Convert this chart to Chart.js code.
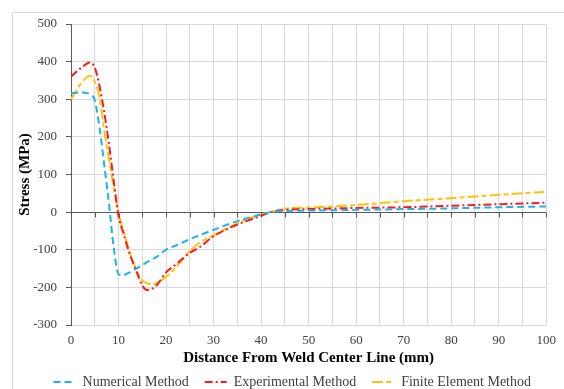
<!DOCTYPE html>
<html>
<head>
<meta charset="utf-8">
<script src="https://cdn.jsdelivr.net/npm/chart.js@4.4.0/dist/chart.umd.min.js"></script>
<style>
  body { margin:0; background:#fff; }
  #wrap { position:relative; width:564px; height:389px; }
  #frame { position:absolute; left:12px; top:12px; width:560px; height:390px; border:1px solid #d9d9d9; box-sizing:border-box; }
  canvas { position:absolute; left:0; top:0; }
</style>
</head>
<body>
<div id="wrap">
  <div id="frame"></div>
  <canvas id="chartStress" width="564" height="389"></canvas>
</div>
<script>
// data (distance in mm, stress in MPa)
const distance     = [0, 2, 4, 5, 6, 7, 8, 9, 10, 11, 12, 13, 14, 15, 16, 17, 18, 20, 22, 25, 27, 30, 35, 40, 42, 45, 50, 60, 70, 80, 90, 100];
const numerical    = [316, 318, 313, 297, 225, 125, 20, -95, -165, -168, -162, -155, -148, -140, -133, -126, -119, -100, -89, -72, -62, -47, -24, -6, 0, 3, 4, 6, 8, 10, 13, 15];
const experimental = [360, 382, 398, 384, 335, 265, 180, 82, -10, -55, -98, -133, -165, -195, -207, -204, -195, -160, -140, -108, -94, -64, -33, -10, 0, 6, 8, 11, 13, 17, 21, 25];
const finiteElem   = [300, 340, 362, 346, 305, 215, 140, 65, -3, -48, -91, -130, -160, -182, -189, -192, -189, -172, -148, -103, -82, -62, -30, -6, 0, 9, 12, 19, 29, 37, 46, 54];
const seriesNames  = ['Numerical Method', 'Experimental Method', 'Finite Element Method'];

const serif = '"Liberation Serif", "Times New Roman", serif';
const pts = arr => distance.map((d, i) => ({ x: d, y: arr[i] }));

// small tick marks hanging under the zero line, like the excel axis
const zeroTicks = {
  id: 'zeroTicks',
  beforeDatasetsDraw(chart){
    const x = chart.scales.x, y = chart.scales.y;
    const y0 = Math.round(y.getPixelForValue(0)) + 0.5;
    const ctx = chart.ctx;
    ctx.save();
    ctx.strokeStyle = '#595959';
    ctx.lineWidth = 1;
    ctx.beginPath();
    for(let v = 0; v <= 100; v += 5){
      const px = Math.round(x.getPixelForValue(v)) + 0.5;
      ctx.moveTo(px, y0);
      ctx.lineTo(px, y0 + 5);
    }
    ctx.stroke();
    ctx.restore();
  }
};

const line = (label, data, color, dash) => ({
  label, data: pts(data),
  borderColor: color, backgroundColor: color,
  borderWidth: 2, borderDash: dash,
  pointRadius: 0, pointStyle: 'line',
  cubicInterpolationMode: 'monotone', fill: false
});

new Chart(document.getElementById('chartStress').getContext('2d'), {
  type: 'line',
  data: {
    datasets: [
      line(seriesNames[0], numerical, '#1cb2ec', [7, 4]),
      line(seriesNames[1], experimental, '#ff1a1a', [8, 3, 2, 3]),
      line(seriesNames[2], finiteElem, '#ffc20e', [11, 3, 5, 3])
    ]
  },
  plugins: [zeroTicks],
  options: {
    responsive: false,
    animation: false,
    layout: { padding: { left: 12, right: 17, top: 24, bottom: -10 } },
    plugins: {
      tooltip: { enabled: false },
      legend: {
        position: 'bottom',
        align: 'end',
        labels: {
          usePointStyle: true,
          pointStyleWidth: 22,
          boxWidth: 22,
          boxHeight: 4,
          padding: 16,
          color: '#404040',
          font: { family: serif, size: 14 },
          generateLabels(chart){
            return chart.data.datasets.map((ds, i) => ({
              text: ds.label,
              fillStyle: ds.borderColor,
              strokeStyle: ds.borderColor,
              fontColor: '#404040',
              lineWidth: 2,
              lineDash: ds.borderDash,
              pointStyle: 'line',
              hidden: false,
              datasetIndex: i
            }));
          }
        }
      }
    },
    scales: {
      x: {
        type: 'linear', min: 0, max: 100,
        afterFit(scale){ scale.height = 34; },
        ticks: {
          stepSize: 5, autoSkip: false, maxRotation: 0, padding: 8,
          color: '#404040', font: { family: serif, size: 13 },
          callback: v => (v % 10 === 0 ? v : '')
        },
        grid: { color: '#d9d9d9', drawTicks: false },
        border: { display: false },
        title: {
          display: true, text: 'Distance From Weld Center Line (mm)',
          color: '#000', font: { family: serif, size: 15, weight: 'bold' },
          padding: { top: 2, bottom: -8 }
        }
      },
      y: {
        min: -300, max: 500,
        afterFit(scale){ scale.width = 59; },
        ticks: {
          stepSize: 100, padding: 9,
          color: '#404040', font: { family: serif, size: 13 }
        },
        grid: {
          color: c => (c.tick && c.tick.value === 0 ? '#595959' : '#d9d9d9'),
          tickColor: '#595959', tickLength: 5
        },
        border: { color: '#595959', width: 1 },
        title: {
          display: true, text: 'Stress (MPa)',
          color: '#000', font: { family: serif, size: 15, weight: 'bold' },
          padding: { top: 4, bottom: 0 }
        }
      }
    }
  }
});
</script>
</body>
</html>
